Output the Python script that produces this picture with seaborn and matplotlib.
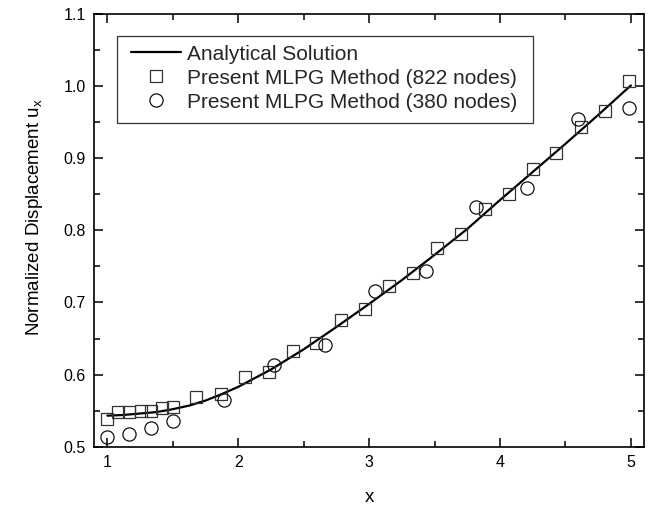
import numpy as np
import pandas as pd
import matplotlib
matplotlib.use('Agg')
import matplotlib.pyplot as plt
import seaborn as sns
from matplotlib.ticker import MultipleLocator
from matplotlib.patches import Rectangle

# Аналитическое решение
x_exact = [1.0, 1.125, 1.25, 1.375, 1.5, 1.625, 1.75, 1.875, 2.0, 2.25, 2.5, 2.75,
           3.0, 3.25, 3.5, 3.75, 4.0, 4.25, 4.5, 4.75, 5.0]
u_exact = [0.543, 0.544, 0.546, 0.548, 0.552, 0.557, 0.564, 0.573, 0.583, 0.607,
           0.635, 0.666, 0.698, 0.731, 0.766, 0.802, 0.842, 0.881, 0.920, 0.960, 1.001]

# MLPG, 822 узла
x_822 = [1.0, 1.08, 1.166, 1.255, 1.337, 1.418, 1.50, 1.68, 1.867, 2.05, 2.233, 2.416,
         2.594, 2.785, 2.968, 3.148, 3.336, 3.52, 3.70, 3.885, 4.068, 4.253, 4.431,
         4.622, 4.80, 4.988]
u_822 = [0.538, 0.548, 0.548, 0.550, 0.550, 0.554, 0.555, 0.569, 0.573, 0.596, 0.604,
         0.633, 0.644, 0.675, 0.691, 0.723, 0.741, 0.775, 0.795, 0.829, 0.850, 0.885,
         0.907, 0.944, 0.966, 1.007]

# MLPG, 380 узлов
x_380 = [1.0, 1.166, 1.33, 1.50, 1.888, 2.27, 2.663, 3.046, 3.433, 3.82, 4.207, 4.596, 4.988]
u_380 = [0.514, 0.518, 0.526, 0.535, 0.565, 0.613, 0.641, 0.716, 0.743, 0.832, 0.859,
         0.955, 0.969]

sns.set_theme(style='ticks')
plt.rcParams['font.family'] = ['Liberation Sans', 'DejaVu Sans']
plt.rcParams['mathtext.fontset'] = 'custom'
plt.rcParams['mathtext.rm'] = 'Liberation Sans'
plt.rcParams['mathtext.it'] = 'Liberation Sans'

fig = plt.figure(figsize=(6.52, 5.08), dpi=100)
ax = fig.add_axes([0.1446, 0.1207, 0.8431, 0.8517])

sns.lineplot(x=x_exact, y=u_exact, color='black', linewidth=1.6, estimator=None,
             label='Analytical Solution', ax=ax)
sns.lineplot(x=x_822, y=u_822, marker='s', linestyle='', markersize=8.8,
             markerfacecolor='none', markeredgecolor='#333333', markeredgewidth=0.9,
             color='#333333', estimator=None,
             label='Present MLPG Method (822 nodes)', ax=ax)
sns.lineplot(x=x_380, y=u_380, marker='o', linestyle='', markersize=9.5,
             markerfacecolor='none', markeredgecolor='#111111', markeredgewidth=0.9,
             color='#111111', estimator=None,
             label='Present MLPG Method (380 nodes)', ax=ax)

ax.set_xlim(0.9, 5.1)
ax.set_ylim(0.5, 1.1)
ax.xaxis.set_major_locator(MultipleLocator(1))
ax.xaxis.set_minor_locator(MultipleLocator(0.5))
ax.yaxis.set_major_locator(MultipleLocator(0.1))
ax.yaxis.set_minor_locator(MultipleLocator(0.05))
ax.set_yticklabels([f'{v:.1f}' for v in ax.get_yticks()])

ax.tick_params(which='both', direction='in', top=True, right=True, width=1.1,
               color='black', labelsize=11.5, labelcolor='black')
ax.tick_params(which='major', length=6.5, pad=6)
ax.tick_params(which='minor', length=4)
for sp in ax.spines.values():
    sp.set_linewidth(1.2)
    sp.set_color('black')

ax.set_xlabel('x', fontsize=13.5, labelpad=14, color='black')
ax.set_ylabel('Normalized Displacement u$_\\mathregular{x}$', fontsize=13.5,
              labelpad=12, color='black')
ax.yaxis.set_label_coords(-0.09, 0.53)

# рамка легенды отдельно (отступы по горизонтали больше, чем по вертикали)
ax.add_patch(Rectangle((0.041, 0.748), 0.757, 0.201, transform=ax.transAxes,
                       facecolor='white', edgecolor='#333333', linewidth=0.9, zorder=4))
leg = ax.legend(loc='upper left', bbox_to_anchor=(0.066, 0.929), borderaxespad=0,
                fontsize=15, frameon=False, handlelength=2.4,
                handletextpad=0.3, labelspacing=0.24, borderpad=0)
leg.set_zorder(5)

fig.savefig('out.png', dpi=100)
